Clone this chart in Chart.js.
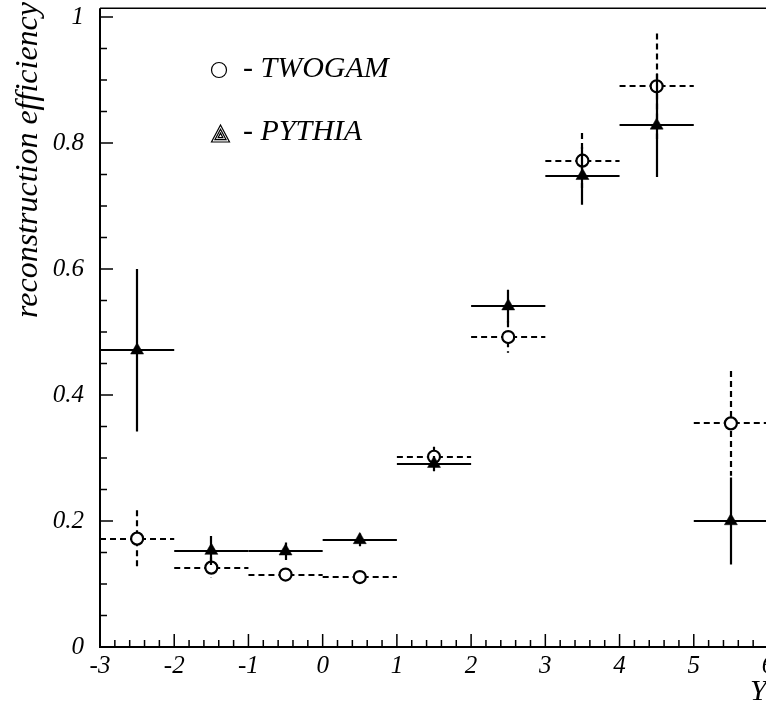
<!DOCTYPE html>
<html>
<head>
<meta charset="utf-8">
<script src="https://cdn.jsdelivr.net/npm/chart.js@4.4.1/dist/chart.umd.min.js"></script>
<style>
  html, body { margin: 0; padding: 0; background: #fff; overflow: hidden; }
  #wrap { width: 780px; height: 704px; }
</style>
</head>
<body>
<div id="wrap"><canvas id="eff"></canvas></div>
<script>
// bins in Y, efficiency per bin
const binCenters = [-2.5, -1.5, -0.5, 0.5, 1.5, 2.5, 3.5, 4.5, 5.5];
const binHalfWidth = [0.5, 0.5, 0.5, 0.5, 0.5, 0.5, 0.5, 0.5, 0.5];
const twogamEff = [0.172, 0.126, 0.115, 0.111, 0.302, 0.492, 0.772, 0.890, 0.355];
const twogamErr = [0.045, 0.016, 0.008, 0.006, 0.016, 0.025, 0.044, 0.084, 0.083];
const pythiaEff = [0.471, 0.153, 0.152, 0.170, 0.291, 0.541, 0.748, 0.828, 0.200];
const pythiaErr = [0.129, 0.023, 0.014, 0.010, 0.012, 0.026, 0.046, 0.082, 0.069];
const xTickValues = [-3, -2, -1, 0, 1, 2, 3, 4, 5, 6];
const yTickValues = [0, 0.2, 0.4, 0.6, 0.8, 1];

const serif = "'Liberation Serif', 'DejaVu Serif', serif";

function points(ys) {
    return binCenters.map((x, i) => ({ x: x, y: ys[i] }));
}

// error bars go under the markers of their own dataset
const errorBars = {
    id: "errorBars",
    beforeDatasetDraw(chart, args) {
        const ds = chart.data.datasets[args.index];
        const xs = chart.scales.x, ys = chart.scales.y, a = chart.chartArea;
        const ctx = chart.ctx;
        ctx.save();
        ctx.beginPath();
        ctx.rect(a.left, a.top, a.right - a.left, a.bottom - a.top);
        ctx.clip();
        ctx.strokeStyle = "#000";
        ctx.lineWidth = 2.2;
        ctx.setLineDash(ds.errDash);
        ds.data.forEach((p, i) => {
            const px = Math.round(xs.getPixelForValue(p.x)), py = Math.round(ys.getPixelForValue(p.y));
            ctx.beginPath();
            ctx.moveTo(xs.getPixelForValue(p.x - binHalfWidth[i]), py);
            ctx.lineTo(xs.getPixelForValue(p.x + binHalfWidth[i]), py);
            ctx.stroke();
            ctx.beginPath();
            ctx.moveTo(px, ys.getPixelForValue(p.y + ds.errors[i]));
            ctx.lineTo(px, ys.getPixelForValue(p.y - ds.errors[i]));
            ctx.stroke();
        });
        ctx.restore();
    }
};

// frame with inward ticks
const frame = {
    id: "frame",
    beforeDatasetsDraw(chart) {
        const xs = chart.scales.x, ys = chart.scales.y, a = chart.chartArea;
        const ctx = chart.ctx;
        ctx.save();
        ctx.strokeStyle = "#000";
        ctx.lineWidth = 1.5;
        ctx.beginPath();
        ctx.moveTo(a.left, a.top);
        ctx.lineTo(a.right + 20, a.top);
        ctx.stroke();
        ctx.lineWidth = 2;
        ctx.beginPath();
        ctx.moveTo(a.left, a.top);
        ctx.lineTo(a.left, a.bottom);
        ctx.lineTo(a.right + 20, a.bottom);
        ctx.stroke();
        ctx.lineWidth = 1.5;
        ctx.beginPath();
        for (let k = 0; k <= 20; k++) {
            const py = ys.getPixelForValue(k * 0.05);
            ctx.moveTo(a.left, py);
            ctx.lineTo(a.left + (k % 4 === 0 ? 13 : 7), py);
        }
        for (let k = 0; k <= 45; k++) {
            const px = xs.getPixelForValue(-3 + k * 0.2);
            ctx.moveTo(px, a.bottom);
            ctx.lineTo(px, a.bottom - (k % 5 === 0 ? 13 : 7));
        }
        ctx.stroke();
        ctx.restore();
    }
};

// axis titles and the legend box
const labels = {
    id: "labels",
    afterDraw(chart) {
        const ctx = chart.ctx;
        ctx.save();
        ctx.fillStyle = "#000";
        ctx.font = "italic 32px " + serif;
        ctx.translate(37, 2);
        ctx.rotate(-Math.PI / 2);
        ctx.textAlign = "right";
        ctx.textBaseline = "alphabetic";
        ctx.fillText("reconstruction efficiency", 0, 0);
        ctx.restore();

        ctx.save();
        ctx.fillStyle = "#000";
        ctx.font = "italic 30px " + serif;
        ctx.textAlign = "left";
        ctx.fillText("Y", 750, 700);

        ctx.fillText("- TWOGAM", 243, 77);
        ctx.fillText("- PYTHIA", 243, 140);

        ctx.strokeStyle = "#000";
        ctx.lineWidth = 1.2;
        ctx.beginPath();
        ctx.arc(219, 70, 7.5, 0, Math.PI * 2);
        ctx.stroke();

        const cx = 220.5, cy = 136;
        [1, 0.62, 0.26].forEach(s => {
            ctx.beginPath();
            ctx.moveTo(cx, cy - 11 * s);
            ctx.lineTo(cx - 9 * s, cy + 6 * s);
            ctx.lineTo(cx + 9 * s, cy + 6 * s);
            ctx.closePath();
            ctx.stroke();
        });
        ctx.restore();
    }
};

new Chart(document.getElementById("eff"), {
    type: "scatter",
    data: {
        datasets: [
            {
                label: "PYTHIA",
                data: points(pythiaEff),
                errors: pythiaErr,
                errDash: [],
                pointStyle: "triangle",
                pointRadius: 7.5,
                backgroundColor: "#000",
                borderColor: "#000",
                borderWidth: 0.5,
            },
            {
                label: "TWOGAM",
                data: points(twogamEff),
                errors: twogamErr,
                errDash: [6, 4],
                pointStyle: "circle",
                pointRadius: 6,
                backgroundColor: "#fff",
                borderColor: "#000",
                borderWidth: 2.2,
            },
        ],
    },
    options: {
        responsive: true,
        maintainAspectRatio: false,
        animation: false,
        layout: { padding: { top: 5, right: 12, left: 0, bottom: 0 } },
        plugins: {
            legend: { display: false },
            tooltip: { enabled: false },
        },
        scales: {
            x: {
                type: "linear",
                min: -3,
                max: 6,
                afterBuildTicks: s => { s.ticks = xTickValues.map(v => ({ value: v })); },
                afterFit: s => { s.height = 57; s.paddingLeft = 0; s.paddingRight = 0; },
                grid: { display: false, drawTicks: false },
                border: { display: false },
                ticks: {
                    color: "#000",
                    padding: 4,
                    maxRotation: 0,
                    autoSkip: false,
                    font: { family: serif, size: 25, style: "italic" },
                    callback: v => String(v),
                },
            },
            y: {
                type: "linear",
                min: 0,
                max: 1.014,
                afterBuildTicks: s => { s.ticks = yTickValues.map(v => ({ value: v })); },
                afterFit: s => { s.width = 100; s.paddingTop = 0; s.paddingBottom = 0; },
                grid: { display: false, drawTicks: false },
                border: { display: false },
                ticks: {
                    color: "#000",
                    padding: 16,
                    font: { family: serif, size: 25, style: "italic" },
                    callback: v => String(Math.round(v * 10) / 10),
                },
            },
        },
    },
    plugins: [errorBars, frame, labels],
});
</script>
</body>
</html>
